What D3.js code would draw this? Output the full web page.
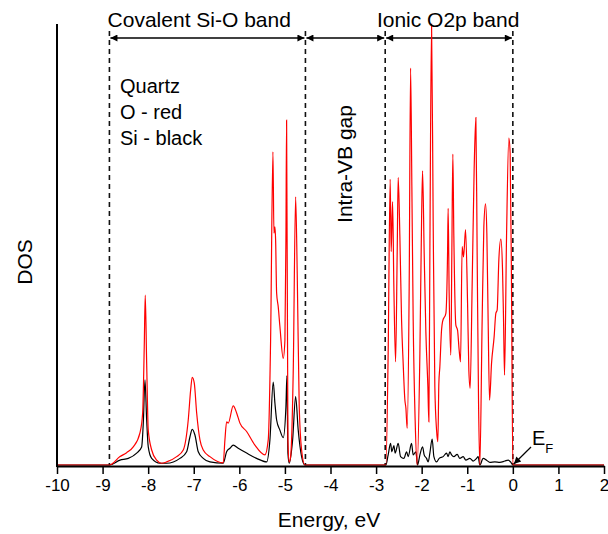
<!DOCTYPE html>
<html>
<head>
<meta charset="utf-8">
<script src="https://cdn.jsdelivr.net/npm/d3@7"></script>
<style>
  body{margin:0;background:#fff;}
  svg text{font-family:"Liberation Sans",Arial,sans-serif;fill:#000;}
</style>
</head>
<body>
<svg id="chart" width="608" height="534"></svg>
<script>
// O (red) and Si (black) partial DOS (arb. units, 0..100)
const oCovE=[-8.853,-8.618,-8.472,-8.327,-8.180,-8.121,-8.086,-8.064,-8.033,-7.998,-7.923,-7.814,-7.704,-7.594,-7.375,-7.230,-7.121,-7.068,-7.033,-6.989,-6.936,-6.864,-6.792,-6.645,-6.353,-6.316,-6.279,-6.243,-6.134,-6.059,-5.987,-5.840,-5.658,-5.439,-5.366,-5.314,-5.263,-5.241,-5.219,-5.204,-5.182,-5.147,-5.110,-5.037,-5.000,-4.978,-4.963,-4.934,-4.906,-4.875,-4.818,-4.765,-4.730,-4.686,-4.634,-4.561]
const oCovDos=[0,1.9,2.8,4.1,7.3,11.8,26.8,38.5,23.1,7.9,3.4,1.1,0.4,0.7,1.9,3.4,10.2,17.0,19.9,18.6,11.8,5.7,3.4,1.9,0.5,5.7,9.8,9.5,13.4,11.8,9.5,7.6,4.5,2.3,5.7,28.3,71.0,52.6,54.0,51.0,39.0,35.9,31.4,24.2,28.3,51.0,78.2,5.7,0.7,1.9,20.9,60.8,43.5,13.2,3.4,0]
const oIonE=[-2.785,-2.735,-2.691,-2.669,-2.638,-2.610,-2.572,-2.537,-2.515,-2.478,-2.441,-2.406,-2.368,-2.346,-2.318,-2.274,-2.243,-2.215,-2.186,-2.143,-2.099,-2.039,-2.002,-1.980,-1.945,-1.908,-1.864,-1.842,-1.820,-1.783,-1.748,-1.711,-1.673,-1.645,-1.623,-1.601,-1.564,-1.542,-1.469,-1.432,-1.419,-1.397,-1.360,-1.338,-1.316,-1.294,-1.250,-1.213,-1.178,-1.147,-1.112,-1.081,-1.037,-0.993,-0.965,-0.936,-0.893,-0.849,-0.811,-0.783,-0.752,-0.724,-0.673,-0.636,-0.599,-0.570,-0.542,-0.511,-0.467,-0.410,-0.373,-0.344,-0.307,-0.263,-0.226,-0.204,-0.182,-0.138,-0.088,-0.059,-0.029,0]
const oIonDos=[0,25.4,64.8,48.4,59.7,40.4,23.4,48.1,65.2,51.8,32.9,23.1,14.7,12.9,8.3,40.4,90.0,63.1,32.9,10.2,0,25.4,55.6,66.7,48.1,30.2,17.8,9.8,48.1,100,55.6,17.8,7.9,5.3,18.5,22.3,30.6,32.5,34.4,48.1,58.2,39.0,24.9,48.1,70.5,51.8,31.7,30.6,26.1,23.4,49.5,47.2,53.4,36.7,21.5,17.4,40.4,66.9,78.8,48.1,14.0,0,32.9,54.0,59.2,52.5,32.9,14.7,23.1,29.1,34.4,35.1,46.5,51.2,44.2,32.9,20.4,51.8,74.1,70.7,40.4,0]

const siCovE=[-8.853,-8.618,-8.436,-8.252,-8.143,-8.107,-8.070,-8.033,-7.998,-7.923,-7.741,-7.594,-7.303,-7.156,-7.083,-7.033,-6.974,-6.901,-6.792,-6.645,-6.353,-6.279,-6.206,-6.134,-6.024,-5.840,-5.621,-5.401,-5.329,-5.257,-5.219,-5.182,-5.110,-5.037,-4.978,-4.956,-4.934,-4.906,-4.831,-4.765,-4.708,-4.634,-4.561]
const siCovDos=[0,1.1,1.5,2.7,4.1,9.5,19.3,10.2,4.1,1.5,0.4,0.4,1.5,3.0,6.4,8.1,6.8,3.0,1.5,0.7,0.4,3.0,3.8,4.5,3.8,2.7,1.5,0.7,5.7,18.8,14.0,10.2,7.9,6.2,13.2,20.2,2.7,0.4,5.7,15.5,7.9,1.9,0]
const siIonE=[-2.785,-2.735,-2.682,-2.654,-2.610,-2.581,-2.515,-2.463,-2.390,-2.331,-2.296,-2.222,-2.186,-2.127,-2.090,-2.039,-1.980,-1.945,-1.893,-1.857,-1.820,-1.770,-1.732,-1.673,-1.616,-1.529,-1.454,-1.419,-1.382,-1.344,-1.294,-1.221,-1.162,-1.090,-1.031,-0.943,-0.871,-0.796,-0.761,-0.724,-0.651,-0.577,-0.504,-0.395,-0.285,-0.175,-0.103,-0.050,0]
const siIonDos=[0,2.3,4.9,3.0,4.4,2.7,4.9,1.9,1.5,3.0,1.9,4.9,2.3,3.0,0,2.3,4.1,2.3,1.5,0.7,2.7,5.9,1.9,0.7,1.5,1.9,2.7,1.9,3.0,2.3,1.9,2.4,1.5,1.9,1.1,1.5,0.9,1.5,1.9,0,1.5,1.1,0.6,0.7,0.6,0.9,1.1,0.7,0]

const xTicks=[-10,-9,-8,-7,-6,-5,-4,-3,-2,-1,0,1,2]
const bandEdges=[-8.85,-4.55,-2.8,0]
const legendLines=["Quartz","O - red","Si - black"]

const svg=d3.select("#chart")
const x=d3.scaleLinear().domain([-10,2]).range([57,604])
const y=d3.scaleLinear().domain([0,100]).range([465,24])

// build full series: zero outside bands
function series(e1,d1,e2,d2){
  const pts=[[-10,0]]
  e1.forEach((e,i)=>pts.push([e,d1[i]]))
  e2.forEach((e,i)=>pts.push([e,d2[i]]))
  pts.push([2,0])
  return pts
}
const oData=series(oCovE,oCovDos,oIonE,oIonDos)
const siData=series(siCovE,siCovDos,siIonE,siIonDos)

const line=d3.line()
  .x(d=>x(d[0]))
  .y(d=>y(d[1]))
  .curve(d3.curveMonotoneX)

// arrow head
const defs=svg.append("defs")
defs.append("marker")
  .attr("id","arr")
  .attr("viewBox","0 0 10 10")
  .attr("refX",10).attr("refY",5)
  .attr("markerWidth",9).attr("markerHeight",7)
  .attr("markerUnits","userSpaceOnUse")
  .attr("orient","auto-start-reverse")
  .append("path").attr("d","M0,0L10,5L0,10z").attr("fill","#000")

// dashed band edges
svg.selectAll(".edge")
  .data(bandEdges)
  .enter()
  .append("line")
  .attr("class","edge")
  .attr("x1",d=>x(d)).attr("x2",d=>x(d))
  .attr("y1",31).attr("y2",465)
  .attr("stroke","#111")
  .attr("stroke-width",1.6)
  .attr("stroke-dasharray","5,4")

// double arrows between edges
svg.selectAll(".span")
  .data(d3.pairs(bandEdges))
  .enter()
  .append("line")
  .attr("class","span")
  .attr("x1",d=>x(d[0])+1).attr("x2",d=>x(d[1])-1)
  .attr("y1",38).attr("y2",38)
  .attr("stroke","#000")
  .attr("stroke-width",1.5)
  .attr("marker-start","url(#arr)")
  .attr("marker-end","url(#arr)")

// curves
svg.append("path")
  .datum(siData)
  .attr("d",line)
  .attr("fill","none")
  .attr("stroke","#000")
  .attr("stroke-width",1.2)
svg.append("path")
  .datum(oData)
  .attr("d",line)
  .attr("fill","none")
  .attr("stroke","#ff0000")
  .attr("stroke-width",1.2)

// axes
const xaxis=d3.axisBottom(x).tickValues(xTicks).tickSize(8).tickSizeOuter(0).tickFormat(d3.format("d"))
const gx=svg.append("g").attr("transform","translate(0,466)").call(xaxis)
gx.select(".domain").attr("stroke-width",2)
gx.selectAll(".tick line").attr("stroke-width",1.5)
gx.selectAll(".tick text")
  .attr("y",13)
  .style("font-size","17px")
  .style("font-family","'Liberation Sans',Arial,sans-serif")
  .text(d=>d<0?"-"+Math.abs(d):d)

svg.append("line")
  .attr("x1",57).attr("x2",57)
  .attr("y1",24).attr("y2",467)
  .attr("stroke","#000").attr("stroke-width",2)

// labels
svg.append("text")
  .attr("x",329).attr("y",527)
  .attr("text-anchor","middle")
  .style("font-size","21px")
  .text("Energy, eV")
svg.append("text")
  .attr("transform","translate(32,262) rotate(-90)")
  .attr("text-anchor","middle")
  .style("font-size","21px")
  .text("DOS")

svg.append("text")
  .attr("x",x(-6.88)).attr("y",27)
  .attr("text-anchor","middle")
  .style("font-size","21px")
  .text("Covalent Si-O band")
svg.append("text")
  .attr("x",x(-1.42)).attr("y",27)
  .attr("text-anchor","middle")
  .style("font-size","21px")
  .text("Ionic O2p band")
svg.append("text")
  .attr("transform","translate("+(x(-3.675)+7)+",164) rotate(-90)")
  .attr("text-anchor","middle")
  .style("font-size","21px")
  .text("Intra-VB gap")

svg.selectAll(".legend")
  .data(legendLines)
  .enter()
  .append("text")
  .attr("class","legend")
  .attr("x",120)
  .attr("y",(d,i)=>93+i*26)
  .style("font-size","20px")
  .text(d=>d)

// Fermi level marker
svg.append("line")
  .attr("x1",531).attr("y1",447)
  .attr("x2",x(0)+1).attr("y2",464)
  .attr("stroke","#000").attr("stroke-width",1.2)
  .attr("marker-end","url(#arr)")
const ef=svg.append("text").attr("x",532).attr("y",445).style("font-size","20px")
ef.append("tspan").text("E")
ef.append("tspan").attr("dy",8).style("font-size","13px").text("F")
</script>
</body>
</html>
